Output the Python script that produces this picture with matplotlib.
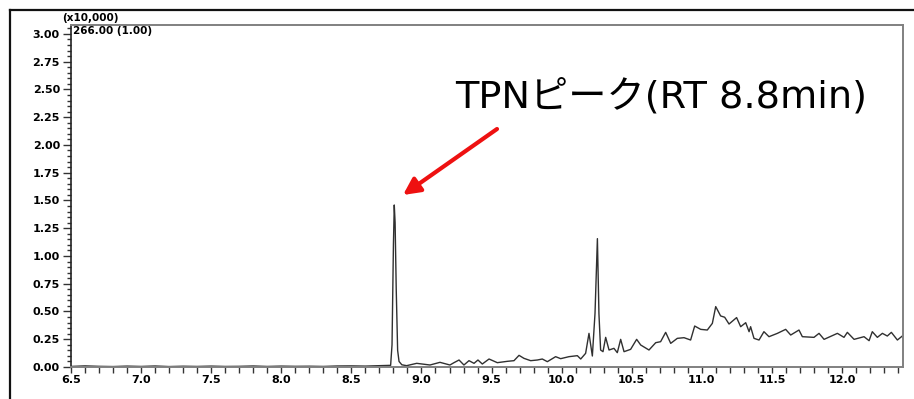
import matplotlib
matplotlib.use("Agg")
import matplotlib.pyplot as plt
from matplotlib.lines import Line2D
from matplotlib.ticker import MultipleLocator, FormatStrFormatter

# Retention time (min) and intensity (x10,000)
rt = [6.50, 6.60, 6.70, 6.80, 6.90, 7.00, 7.10, 7.20, 7.30, 7.40, 7.50, 7.60,
      7.70, 7.80, 7.90, 8.00, 8.10, 8.20, 8.30, 8.40, 8.50, 8.60, 8.70, 8.78,
      8.790, 8.800, 8.806, 8.812, 8.820, 8.830, 8.840, 8.860, 8.894, 8.966,
      9.061, 9.132, 9.203, 9.232, 9.268, 9.303, 9.339, 9.375, 9.403, 9.434,
      9.482, 9.541, 9.612, 9.660, 9.696, 9.731, 9.779, 9.827, 9.862, 9.898,
      9.957, 9.993, 10.052, 10.112, 10.136, 10.171, 10.195, 10.219, 10.238,
      10.255, 10.266, 10.278, 10.295, 10.314, 10.338, 10.373, 10.397, 10.421,
      10.445, 10.492, 10.535, 10.564, 10.623, 10.671, 10.706, 10.742, 10.778,
      10.825, 10.873, 10.920, 10.949, 10.992, 11.039, 11.075, 11.099, 11.134,
      11.163, 11.194, 11.248, 11.277, 11.313, 11.337, 11.348, 11.372, 11.408,
      11.443, 11.479, 11.539, 11.598, 11.634, 11.693, 11.717, 11.800, 11.836,
      11.872, 11.967, 12.014, 12.038, 12.086, 12.157, 12.193, 12.216, 12.252,
      12.288, 12.323, 12.352, 12.395, 12.430]
intensity = [0.005, 0.010, 0.006, 0.004, 0.008, 0.005, 0.009, 0.004, 0.007,
             0.005, 0.008, 0.005, 0.006, 0.009, 0.005, 0.008, 0.006, 0.007,
             0.005, 0.009, 0.010, 0.008, 0.012, 0.015,
             0.200, 1.100, 1.459, 1.300, 0.700, 0.150, 0.050, 0.020, 0.012, 0.033,
             0.018, 0.042, 0.018, 0.039, 0.063, 0.018, 0.057, 0.033, 0.063, 0.027,
             0.072, 0.039, 0.051, 0.057, 0.105, 0.078, 0.057, 0.063, 0.072, 0.048,
             0.093, 0.075, 0.093, 0.102, 0.072, 0.123, 0.303, 0.099, 0.483,
             1.156, 0.480, 0.153, 0.138, 0.267, 0.153, 0.168, 0.129, 0.249,
             0.138, 0.159, 0.249, 0.198, 0.153, 0.219, 0.228, 0.312, 0.213,
             0.258, 0.264, 0.243, 0.369, 0.339, 0.333, 0.393, 0.544, 0.460,
             0.448, 0.387, 0.445, 0.363, 0.399, 0.318, 0.363, 0.258, 0.243,
             0.318, 0.273, 0.303, 0.339, 0.288, 0.333, 0.273, 0.267, 0.303,
             0.249, 0.303, 0.267, 0.312, 0.249, 0.273, 0.237, 0.318, 0.267,
             0.303, 0.279, 0.312, 0.243, 0.279]

annotation_text = "TPNピーク(RT 8.8min)"
scale_label = "(x10,000)"
trace_label = "266.00 (1.00)"

W, H = 914, 399
fig = plt.figure(figsize=(W / 100, H / 100), dpi=100)
ax = fig.add_axes([71 / W, 1 - 367 / H, (903 - 71) / W, (367 - 25) / H])

ax.plot(rt, intensity, color="#303030", lw=1.0)
ax.set_xlim(6.5, 12.435)
ax.set_ylim(0, 3.08)

ax.xaxis.set_major_locator(MultipleLocator(0.5))
ax.xaxis.set_minor_locator(MultipleLocator(0.1))
ax.yaxis.set_major_locator(MultipleLocator(0.25))
ax.yaxis.set_minor_locator(MultipleLocator(0.05))
ax.xaxis.set_major_formatter(FormatStrFormatter("%.1f"))
ax.yaxis.set_major_formatter(FormatStrFormatter("%.2f"))

ax.tick_params(axis="both", which="major", direction="out", labelsize=8,
               width=1.0, color="#333333", pad=2)
ax.tick_params(axis="y", which="major", length=6)
ax.tick_params(axis="y", which="minor", length=3, width=1.0, color="#333333")
ax.tick_params(axis="x", which="major", length=4)
ax.tick_params(axis="x", which="minor", length=4, width=1.0, color="#333333")
for lab in ax.get_xticklabels() + ax.get_yticklabels():
    lab.set_fontweight("bold")

ax.spines["left"].set_color("#222222")
ax.spines["left"].set_linewidth(1.2)
for s in ["top", "right", "bottom"]:
    ax.spines[s].set_color("#808080")
    ax.spines[s].set_linewidth(1.4)

# header labels
fig.text(62 / W, 1 - 18 / H, scale_label, fontsize=7.5, fontweight="bold",
         ha="left", va="center")
fig.text(73 / W, 1 - 31 / H, trace_label, fontsize=7.5, fontweight="bold",
         ha="left", va="center")

# annotation with red arrow
ax.annotate("", xy=(403 / W, 1 - 195 / H), xycoords="figure fraction",
            xytext=(497 / W, 1 - 129 / H), textcoords="figure fraction",
            arrowprops=dict(arrowstyle="-|>,head_length=1.0,head_width=0.5",
                            color="#ee1111", lw=3, shrinkA=0, shrinkB=0))
fig.text(455 / W, 1 - 97 / H, annotation_text, fontsize=27.5,
         family=["DejaVu Sans", "Noto Sans CJK JP"], ha="left", va="center")

# outer frame (partly cropped)
fig.add_artist(Line2D([9.5 / W, 9.5 / W], [0, 1 - 10 / H], color="#111111",
                      lw=1.6, transform=fig.transFigure))
fig.add_artist(Line2D([9.5 / W, 1], [1 - 10 / H, 1 - 10 / H], color="#111111",
                      lw=1.6, transform=fig.transFigure))

fig.savefig("out.png", dpi=100)
